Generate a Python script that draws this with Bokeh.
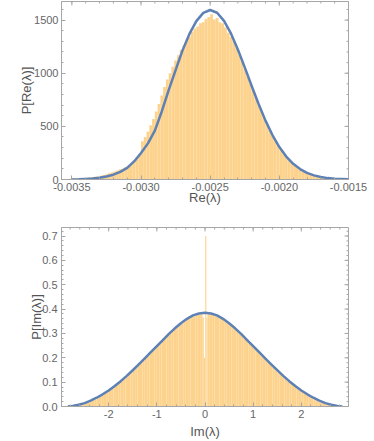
import math
from bokeh.plotting import figure
from bokeh.layouts import column
from bokeh.models import Range1d, FixedTicker
from bokeh.embed import file_html
from bokeh.resources import INLINE

# ---------------- data: Re(lambda) ----------------
re_bin_start = -0.0036
re_bin_width = 0.00002
re_hist = [3, 3, 4, 5, 6, 7, 8, 10, 11, 13, 15, 18, 21, 25, 29,
           35, 42, 50, 58, 66, 75, 85, 96, 104, 118, 132, 155, 178, 205, 240,
           360, 400, 450, 510, 570, 640, 710, 790, 870, 940, 1000, 1060, 1120, 1170, 1220,
           1260, 1300, 1340, 1390, 1420, 1440, 1470, 1480, 1510, 1530, 1555, 1505, 1520, 1480, 1470,
           1430, 1380, 1340, 1300, 1240, 1170, 1110, 1040, 970, 900, 840, 770, 700, 640, 580,
           520, 465, 410, 365, 320, 280, 245, 210, 180, 155, 130, 110, 92, 78, 65,
           54, 44, 36, 29, 23, 18, 14, 11, 8, 6, 5, 4, 3, 2, 1]
re_curve_x = [-0.0035, -0.00345, -0.0034, -0.00335, -0.0033, -0.00325, -0.0032, -0.00315,
              -0.0031, -0.00305, -0.003, -0.00295, -0.0029, -0.00285, -0.0028, -0.00275,
              -0.0027, -0.00265, -0.0026, -0.00255, -0.0025, -0.00245, -0.0024, -0.00235,
              -0.0023, -0.00225, -0.0022, -0.00215, -0.0021, -0.00205, -0.002, -0.00195,
              -0.0019, -0.00185, -0.0018, -0.00175, -0.0017, -0.00165, -0.0016, -0.00155, -0.0015]
re_curve_y = [1, 2, 5, 9, 16, 28, 45, 72, 110, 170, 250, 340, 460, 640, 840, 1030,
              1215, 1370, 1490, 1568, 1595, 1569, 1493, 1375, 1224, 1055, 880, 710,
              554, 418, 305, 216, 148, 98, 62, 39, 23, 13, 7, 4, 2]
re_xticks = [-0.0035, -0.003, -0.0025, -0.002, -0.0015]
re_xtick_labels = ["-0.0035", "-0.0030", "-0.0025", "-0.0020", "-0.0015"]
re_yticks = [0, 500, 1000, 1500]
re_ytick_labels = ["0", "500", "1000", "1500"]

# ---------------- data: Im(lambda) ----------------
im_bin_width = 0.05
im_pos_start = 0.05
im_hist_pos = [0.380, 0.378, 0.376, 0.372, 0.368, 0.362, 0.356, 0.349, 0.342, 0.334,
               0.326, 0.317, 0.308, 0.299, 0.289, 0.279, 0.269, 0.259, 0.249, 0.239,
               0.229, 0.219, 0.209, 0.199, 0.189, 0.179, 0.169, 0.159, 0.149, 0.140,
               0.131, 0.122, 0.113, 0.104, 0.096, 0.088, 0.080, 0.073, 0.066, 0.059,
               0.052, 0.046, 0.040, 0.034, 0.029, 0.024, 0.020, 0.016, 0.012, 0.009,
               0.007, 0.005, 0.003, 0.002, 0.001, 0.0005]
im_hist_neg = [0.379, 0.377, 0.375, 0.371, 0.367, 0.362, 0.355, 0.349, 0.341, 0.333,
               0.325, 0.317, 0.307, 0.298, 0.289, 0.279, 0.268, 0.259, 0.248, 0.239,
               0.228, 0.219, 0.208, 0.199, 0.188, 0.179, 0.168, 0.159, 0.149, 0.139,
               0.131, 0.121, 0.113, 0.104, 0.095, 0.088, 0.080, 0.072, 0.066, 0.058,
               0.052, 0.045, 0.040, 0.034, 0.028, 0.024, 0.019, 0.016, 0.012, 0.009,
               0.007, 0.005, 0.003, 0.002, 0.001, 0.0005]
im_center_edges = [-0.05, -0.025, 0.0, 0.03, 0.05]
im_center_hist = [0.365, 0.20, 0.70, 0.365]
im_curve_x = [-2.85, -2.75, -2.625, -2.5, -2.375, -2.25, -2.125, -2.0, -1.875, -1.75,
              -1.625, -1.5, -1.375, -1.25, -1.125, -1.0, -0.875, -0.75, -0.625, -0.5,
              -0.375, -0.25, -0.125, 0.0, 0.125, 0.25, 0.375, 0.5, 0.625, 0.75, 0.875,
              1.0, 1.125, 1.25, 1.375, 1.5, 1.625, 1.75, 1.875, 2.0, 2.125, 2.25, 2.375,
              2.5, 2.625, 2.75, 2.85]
im_curve_y = [0.0, 0.002, 0.007, 0.014, 0.024, 0.036, 0.050, 0.066, 0.084, 0.104,
              0.126, 0.149, 0.173, 0.198, 0.223, 0.248, 0.273, 0.298, 0.321, 0.342,
              0.360, 0.374, 0.382, 0.385, 0.382, 0.374, 0.360, 0.342, 0.321, 0.298, 0.273,
              0.248, 0.223, 0.198, 0.173, 0.149, 0.126, 0.104, 0.084, 0.066, 0.050, 0.036, 0.024,
              0.014, 0.007, 0.002, 0.0]
im_xticks = [-2, -1, 0, 1, 2]
im_xtick_labels = ["-2", "-1", "0", "1", "2"]
im_yticks = [0.0, 0.1, 0.2, 0.3, 0.4, 0.5, 0.6, 0.7]
im_ytick_labels = ["0.0", "0.1", "0.2", "0.3", "0.4", "0.5", "0.6", "0.7"]

# ---------------- style ----------------
BAR = "#FCD28C"
SPIKE = "#FDDCA6"
LINE = "#5E81B5"
FRAME = "#A6A6A6"
TXT = "#666666"
FONT = "Liberation Sans"


def minor_list(major, lo, hi, n=5):
    step = (major[1] - major[0]) / n
    start = major[0] - step * n * 2
    out = []
    k = 0
    while True:
        v = start + k * step
        if v > hi + 1e-12:
            break
        if v >= lo - 1e-12:
            out.append(v)
        k += 1
    return out


def style_axis(ax, ticks, labels, lo, hi):
    ax.ticker = FixedTicker(ticks=ticks, minor_ticks=minor_list(ticks, lo, hi))
    ax.major_label_overrides = {t: l for t, l in zip(ticks, labels)}
    ax.axis_line_color = FRAME
    ax.major_tick_line_color = FRAME
    ax.minor_tick_line_color = FRAME
    ax.major_tick_in = 4
    ax.major_tick_out = 0
    ax.minor_tick_in = 2
    ax.minor_tick_out = 0
    ax.major_label_text_font = FONT
    ax.major_label_text_color = TXT
    ax.major_label_text_font_size = "11px"
    ax.major_label_standoff = 3
    ax.axis_label_text_font = FONT
    ax.axis_label_text_color = "#555555"
    ax.axis_label_text_font_style = "normal"
    ax.axis_label_text_font_size = "13px"


def opposite_ticks(p, xticks, yticks, xr, yr):
    # tick marks on the top and right edges of the frame (inside only, clipped)
    xmin = minor_list(xticks, xr[0], xr[1])
    ymin = minor_list(yticks, yr[0], yr[1])
    xmaj = [t for t in xmin if any(abs(t - m) < 1e-12 for m in xticks)]
    ymaj = [t for t in ymin if any(abs(t - m) < 1e-12 for m in yticks)]
    p.scatter(xmin, [yr[1]] * len(xmin), marker="dash", size=4, angle=math.pi / 2,
              line_color=FRAME, line_width=1)
    p.scatter(xmaj, [yr[1]] * len(xmaj), marker="dash", size=8, angle=math.pi / 2,
              line_color=FRAME, line_width=1)
    p.scatter([xr[1]] * len(ymin), ymin, marker="dash", size=4,
              line_color=FRAME, line_width=1)
    p.scatter([xr[1]] * len(ymaj), ymaj, marker="dash", size=8,
              line_color=FRAME, line_width=1)


def make_fig(xr, yr, h, left, right, top, bottom):
    p = figure(width=374, height=h, x_range=Range1d(*xr), y_range=Range1d(*yr),
               output_backend="svg", toolbar_location=None,
               min_border_left=left, min_border_right=right,
               min_border_top=top, min_border_bottom=bottom)
    p.grid.visible = False
    p.outline_line_color = FRAME
    p.background_fill_color = "white"
    p.border_fill_color = "white"
    return p


# ---------------- top figure ----------------
re_xr = (-0.003575, -0.0015)
re_yr = (0, 1675)
p1 = make_fig(re_xr, re_yr, 215, 61, 25, 1, 36)
re_left = [re_bin_start + i * re_bin_width for i in range(len(re_hist))]
re_right = [v + re_bin_width for v in re_left]
p1.quad(left=re_left, right=re_right, bottom=0, top=re_hist,
        fill_color=BAR, line_color=None)
p1.line(re_curve_x, re_curve_y, line_color=LINE, line_width=2.5, line_join="round")
style_axis(p1.xaxis[0], re_xticks, re_xtick_labels, *re_xr)
style_axis(p1.yaxis[0], re_yticks, re_ytick_labels, *re_yr)
p1.xaxis[0].axis_label = "Re(λ)"
p1.yaxis[0].axis_label = "P[Re(λ)]"
p1.xaxis[0].axis_label_standoff = -4
p1.yaxis[0].axis_label_standoff = -3
opposite_ticks(p1, re_xticks, re_yticks, re_xr, re_yr)

# ---------------- bottom figure ----------------
im_xr = (-2.98, 2.98)
im_yr = (0, 0.735)
p2 = make_fig(im_xr, im_yr, 226, 60, 26, 12, 35)
pos_left = [im_pos_start + i * im_bin_width for i in range(len(im_hist_pos))]
neg_right = [-im_pos_start - i * im_bin_width for i in range(len(im_hist_neg))]
lefts = pos_left + [r - im_bin_width for r in neg_right]
rights = [l + im_bin_width for l in pos_left] + neg_right
tops = im_hist_pos + im_hist_neg
p2.quad(left=lefts, right=rights, bottom=0, top=tops,
        fill_color=BAR, line_color=None)
c_cols = [BAR, BAR, SPIKE, BAR]
p2.quad(left=im_center_edges[:-1], right=im_center_edges[1:], bottom=0,
        top=im_center_hist, fill_color=c_cols, line_color=None)
p2.line(im_curve_x, im_curve_y, line_color=LINE, line_width=2.5, line_join="round")
style_axis(p2.xaxis[0], im_xticks, im_xtick_labels, *im_xr)
style_axis(p2.yaxis[0], im_yticks, im_ytick_labels, *im_yr)
p2.xaxis[0].axis_label = "Im(λ)"
p2.yaxis[0].axis_label = "P[Im(λ)]"
p2.xaxis[0].axis_label_standoff = 3
p2.yaxis[0].axis_label_standoff = -5
p2.yaxis[0].major_label_standoff = 4
opposite_ticks(p2, im_xticks, im_yticks, im_xr, im_yr)

layout = column(p1, p2, spacing=0)
open("out.html", "w").write(file_html(layout, INLINE))
